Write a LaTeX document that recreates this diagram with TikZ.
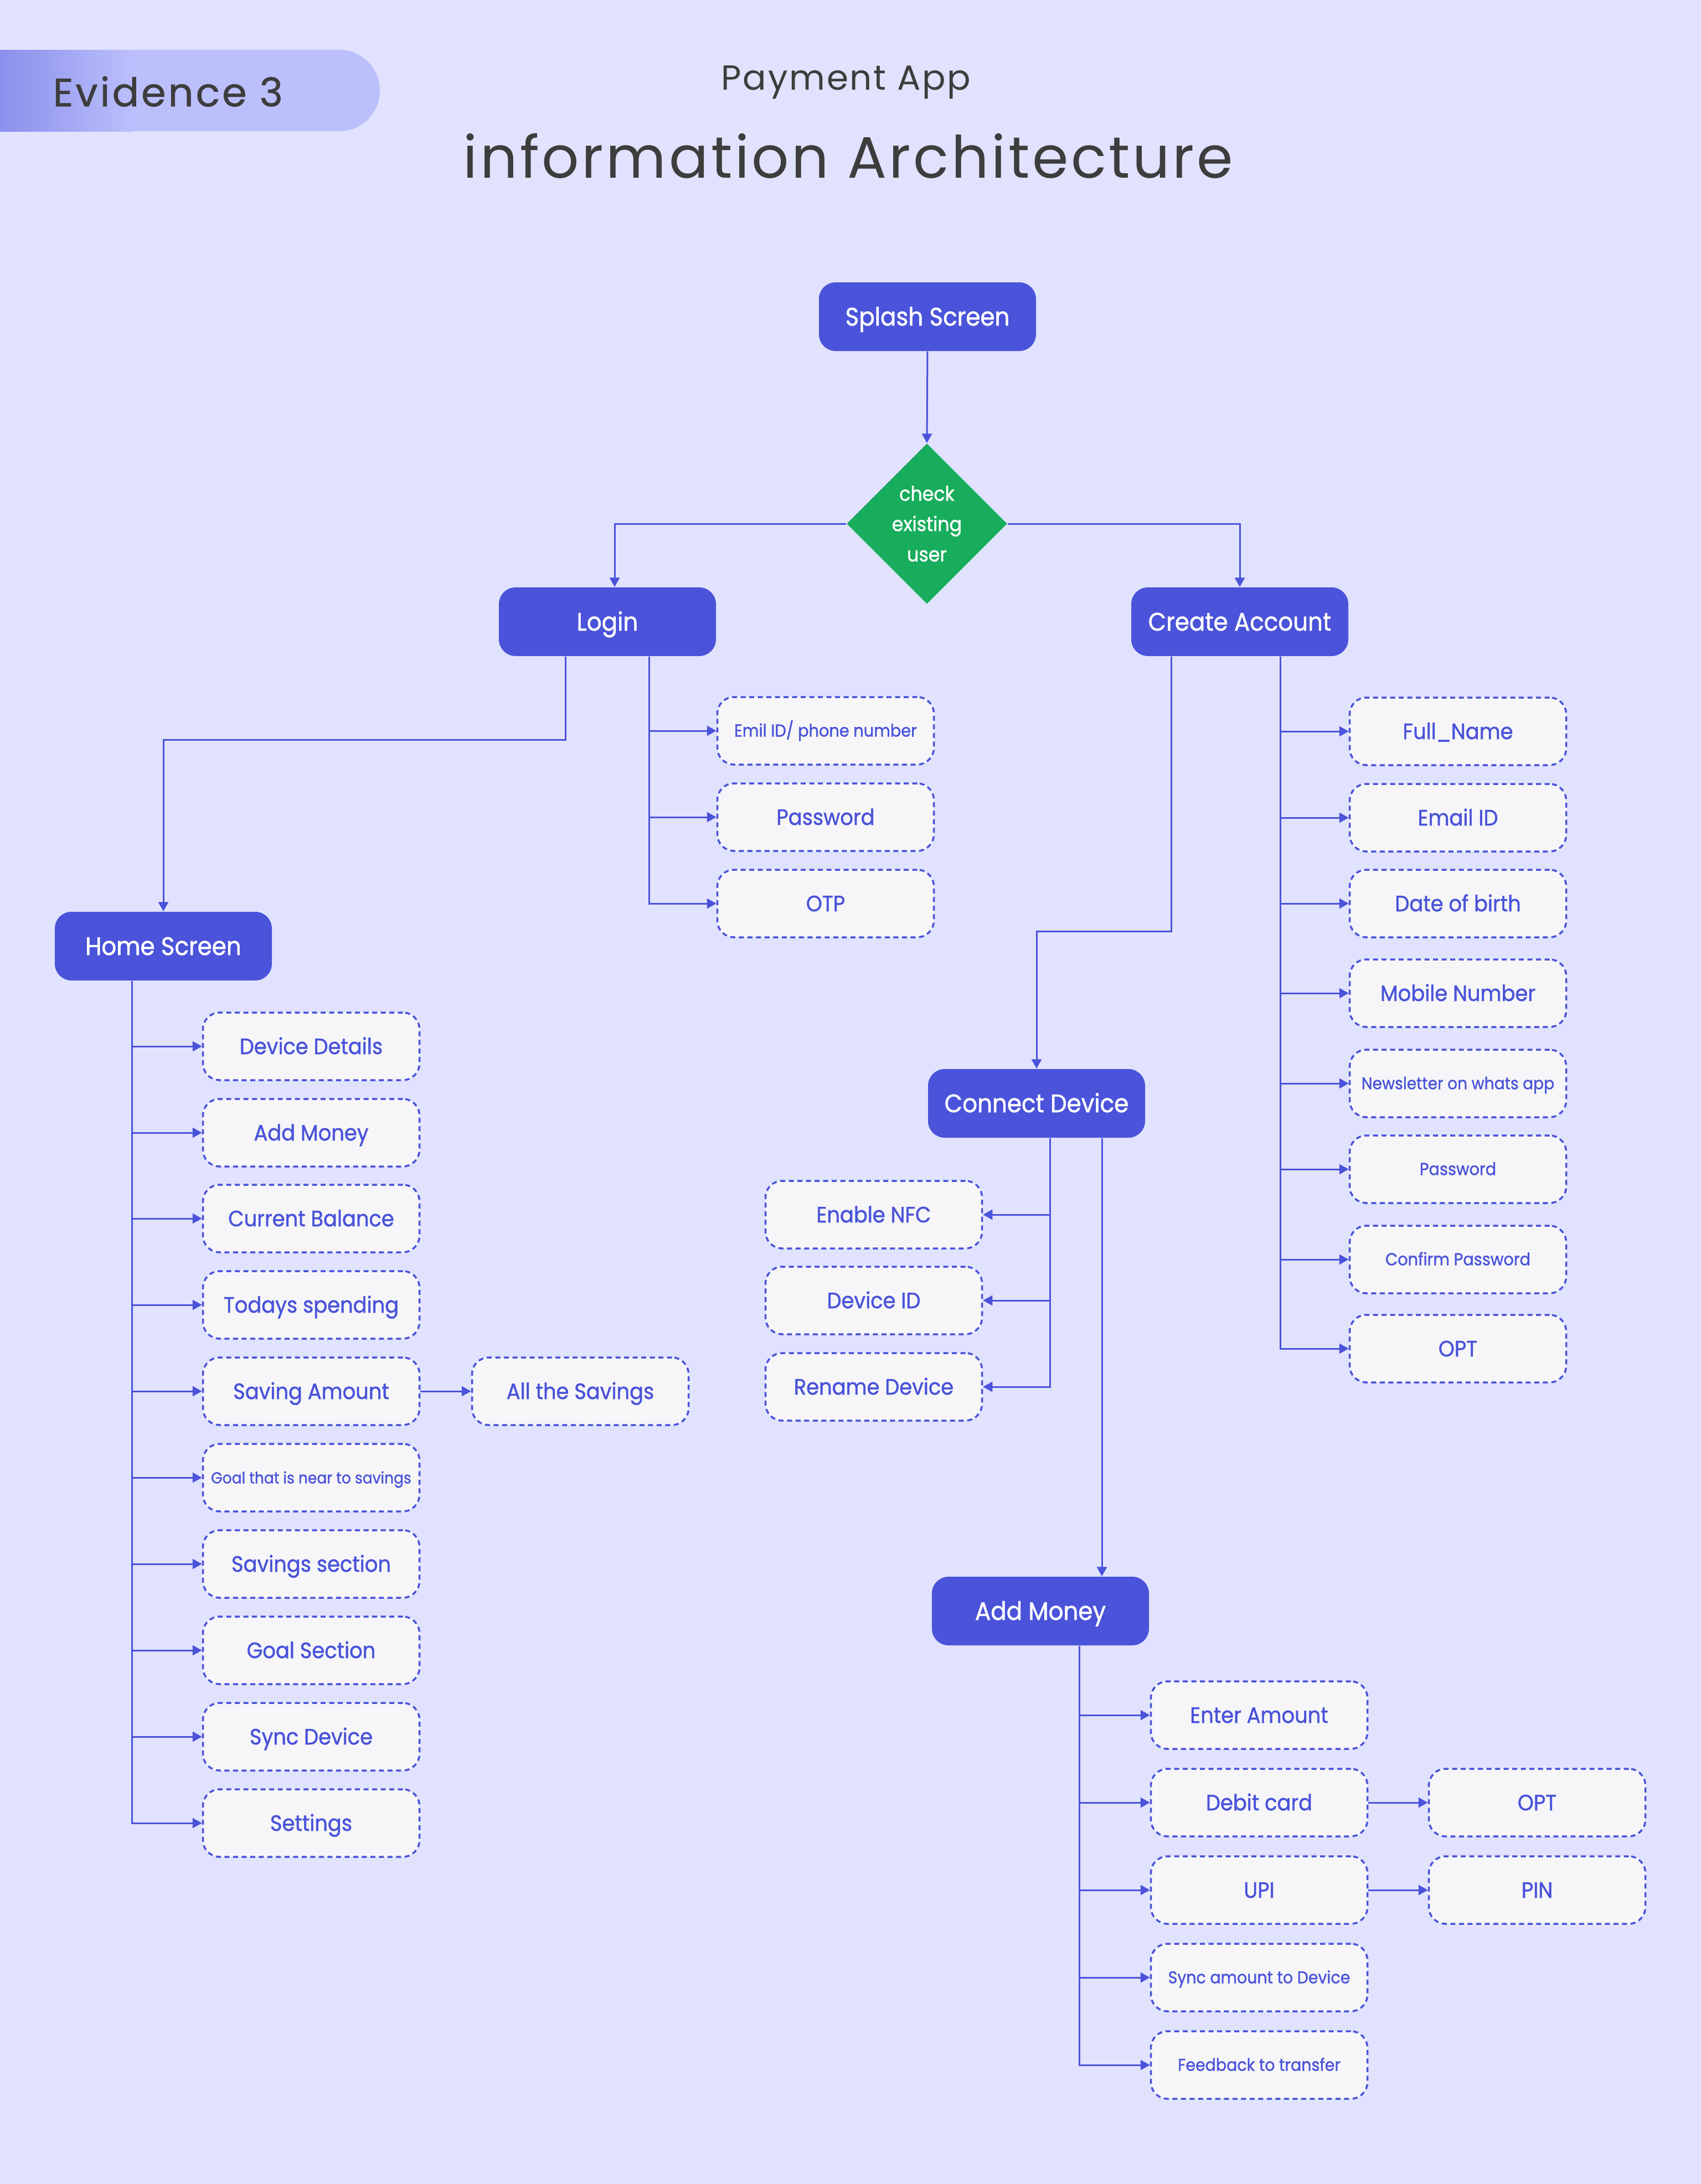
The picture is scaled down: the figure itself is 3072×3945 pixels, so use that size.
\documentclass[tikz,border=0pt]{standalone}
\usepackage{fontspec}
\setmainfont{Poppins}
\newfontfamily\pmed{Poppins}[FakeBold=1.2,FakeStretch=0.92]
\newfontfamily\pev{Poppins}[FakeBold=1.0,LetterSpace=6]
\newfontfamily\preg{Poppins}[LetterSpace=4.4]
\usetikzlibrary{shapes.geometric,arrows.meta}
\definecolor{bg}{HTML}{E1E2FD}
\definecolor{blu}{HTML}{4A53D9}
\definecolor{subf}{HTML}{F6F6F8}
\definecolor{grn}{HTML}{18AD5C}
\definecolor{ttl}{HTML}{3D3D3D}
\definecolor{pillL}{HTML}{8A8FEB}
\definecolor{pillR}{HTML}{BBBFFC}
\tikzset{
  mainbox/.style={fill=blu, rounded corners=3mm, minimum width=39.2mm, minimum height=12.4mm,
    inner sep=0pt, text=white, text height=3.2mm, text depth=0pt, font=\pmed\fontsize{13}{15}\selectfont},
  subbox/.style={fill=subf, draw=blu, line width=0.35mm, dash pattern=on 0.9mm off 0.65mm,
    rounded corners=3mm, minimum width=39.1mm, minimum height=12.2mm, inner sep=0pt, text=blu,
    text height=2.8mm, text depth=0pt, font=\pmed\fontsize{11.4}{13}\selectfont},
  small/.style={font=\pmed\fontsize{#1}{12}\selectfont, text height=2.1mm},
  conn/.style={draw=blu, line width=0.3mm, -{Triangle[length=1.7mm,width=1.8mm]}},
  wire/.style={draw=blu, line width=0.3mm},
}
\begin{document}
\begin{tikzpicture}[x=0.1mm,y=-0.1mm]
\useasboundingbox (0,0) rectangle (3072,3945);
\fill[bg] (0,0) rectangle (3072,3945);
% header
\fill[pillR, rounded corners=7.3mm] (-200,90) rectangle (686,237);
\shade[left color=pillL, right color=pillR] (0,90) rectangle (240,237);
\node[anchor=base west, inner sep=0pt, text=ttl, font=\pev\fontsize{20.3}{24}\selectfont] (ev) at (95,192) {Evidence 3};
\node[anchor=base, inner sep=0pt, text=ttl, font=\preg\fontsize{17.9}{22}\selectfont] (pa) at (1528,162) {Payment App};
\node[anchor=base, inner sep=0pt, text=ttl, font=\preg\fontsize{30}{36}\selectfont] (ia) at (1532,321) {information Architecture};

% main nodes
\node[mainbox] (splash) at (1675,572) {Splash Screen};
\node[diamond, fill=grn, minimum width=29mm, minimum height=29mm, inner sep=0pt, text=white,
  align=center, font=\pmed\fontsize{10.3}{15.6}\selectfont] (diam) at (1674,946) {check\\existing\\user};
\node[mainbox] (login) at (1097,1123) {Login};
\node[mainbox] (ca) at (2239,1123) {Create Account};
\node[mainbox] (home) at (295,1709) {Home Screen};
\node[mainbox] (cd) at (1872,1993) {Connect Device};
\node[mainbox] (am) at (1879,2910) {Add Money};

% login children
\node[subbox, small=8.9] (lemail) at (1491,1320) {Emil ID/ phone number};
\node[subbox] (lpass) at (1491,1476) {Password};
\node[subbox] (lotp) at (1491,1632) {OTP};

% home children
\node[subbox] (h1) at (562,1890) {Device Details};
\node[subbox] (h2) at (562,2046) {Add Money};
\node[subbox] (h3) at (562,2201) {Current Balance};
\node[subbox] (h4) at (562,2357) {Todays spending};
\node[subbox] (h5) at (562,2513) {Saving Amount};
\node[subbox, small=8.2] (h6) at (562,2669) {Goal that is near to savings};
\node[subbox] (h7) at (562,2825) {Savings section};
\node[subbox] (h8) at (562,2981) {Goal Section};
\node[subbox] (h9) at (562,3137) {Sync Device};
\node[subbox] (h10) at (562,3293) {Settings};
\node[subbox] (allsav) at (1048,2513) {All the Savings};

% create account children
\node[subbox] (c1) at (2633,1321) {Full\_Name};
\node[subbox] (c2) at (2633,1477) {Email ID};
\node[subbox] (c3) at (2633,1632) {Date of birth};
\node[subbox] (c4) at (2633,1794) {Mobile Number};
\node[subbox, small=8.7] (c5) at (2633,1957) {Newsletter on whats app};
\node[subbox, small=8.9] (c6) at (2633,2112) {Password};
\node[subbox, small=8.9] (c7) at (2633,2275) {Confirm Password};
\node[subbox] (c8) at (2633,2436) {OPT};

% connect device children
\node[subbox] (d1) at (1578,2194) {Enable NFC};
\node[subbox] (d2) at (1578,2349) {Device ID};
\node[subbox] (d3) at (1578,2505) {Rename Device};

% add money children
\node[subbox] (m1) at (2274,3098) {Enter Amount};
\node[subbox] (m2) at (2274,3256) {Debit card};
\node[subbox] (m3) at (2274,3414) {UPI};
\node[subbox, small=8.8] (m4) at (2274,3572) {Sync amount to Device};
\node[subbox, small=8.8] (m5) at (2274,3730) {Feedback to transfer};
\node[subbox] (mopt) at (2776,3256) {OPT};
\node[subbox] (mpin) at (2776,3414) {PIN};

% bus coordinates
\coordinate (lbus) at (1172,1185);
\coordinate (lh) at (1021,1336);
\coordinate (hbus) at (238,1772);
\coordinate (cbus) at (2312,1185);
\coordinate (cc) at (2115,1682);
\coordinate (dbus) at (1896,2056);
\coordinate (amx) at (1990,2056);
\coordinate (mbus) at (1949,2973);

% connectors
\draw[conn] (splash.south) -- (diam.north);
\draw[conn] (diam.west) -| ([xshift=1.3mm]login.north);
\draw[conn] (diam.east) -| (ca.north);

\foreach \n in {lemail,lpass,lotp} \draw[conn] (login.south -| lbus) |- (\n.west);
\draw[conn] (login.south -| lh) -- (lh) -| (home.north);
\foreach \n in {h1,h2,h3,h4,h5,h6,h7,h8,h9,h10} \draw[conn] (home.south -| hbus) |- (\n.west);
\draw[conn] (h5.east) -- (allsav.west);

\foreach \n in {c1,c2,c3,c4,c5,c6,c7,c8} \draw[conn] (ca.south -| cbus) |- (\n.west);
\draw[conn] (ca.south -| cc) -- (cc) -| (cd.north);

\foreach \n in {d1,d2,d3} \draw[conn] (cd.south -| dbus) |- (\n.east);
\draw[conn] (cd.south -| amx) -- (am.north -| amx);

\foreach \n in {m1,m2,m3,m4,m5} \draw[conn] (am.south -| mbus) |- (\n.west);
\draw[conn] (m2.east) -- (mopt.west);
\draw[conn] (m3.east) -- (mpin.west);
\end{tikzpicture}
\end{document}
